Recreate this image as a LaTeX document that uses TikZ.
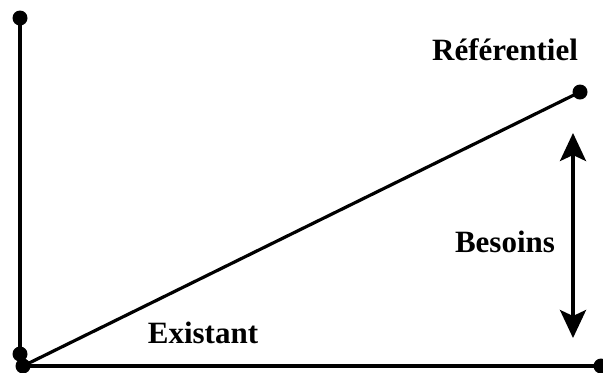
\documentclass[tikz,border=0pt]{standalone}
\usepackage{fontspec}
\setmainfont{Liberation Serif}
\usetikzlibrary{arrows.meta,positioning}

\begin{document}
\begin{tikzpicture}[
  x=0.5pt, y=-0.5pt,
  font=\fontsize{15.5}{18}\selectfont\bfseries,
  dot/.style={circle, fill, inner sep=0pt, minimum size=7.5pt},
  axe/.style={line width=1.6pt},
  arr/.style={{Stealth[length=14pt,width=13pt,inset=3pt]}-{Stealth[length=14pt,width=13pt,inset=3pt]}, line width=1.8pt}]
\useasboundingbox (0,0) rectangle (603,372);
\node[dot] (top) at (20,18) {};
\node[dot] (low) at (20,354) {};
\node[dot] (O) at (23,366) {};
\node[dot] (R) at (580,92) {};
\node[dot] (E) at (601,366) {};
\coordinate (bh) at (573,133);
\coordinate (bb) at (573,338);
\node (ref) at (505,50) {Référentiel};
\node (bes) at (505,242) {Besoins};
\node (ex) at (203,333) {Existant};
\draw[axe] (top.center) -- (low.center);
\draw[axe] (O.center) -- (E.center);
\draw[axe] (O.center) -- (R.center);
\draw[arr] (bh) -- (bb);
\end{tikzpicture}
\end{document}
